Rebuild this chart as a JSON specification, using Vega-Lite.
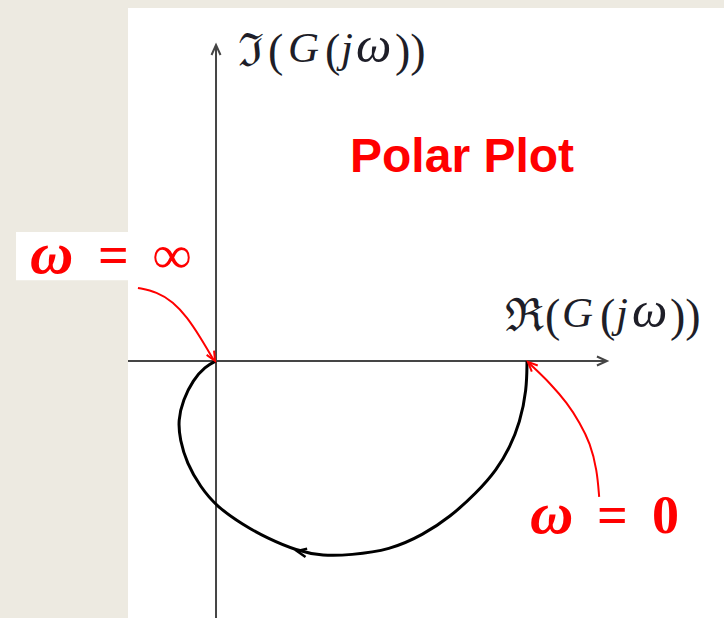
{
  "$schema": "https://vega.github.io/schema/vega-lite/v6.json",
  "width": 596,
  "height": 610,
  "autosize": {"type": "none"},
  "padding": {"left": 128, "top": 8, "right": 0, "bottom": 0},
  "background": "#edeae1",
  "config": {"view": {"fill": "white", "stroke": null}},
  "datasets": {
    "axes": [
      {"axis": "real", "re": -0.283, "im": 0},
      {"axis": "real", "re": 1.251, "im": 0},
      {"axis": "imag", "re": 0, "im": -0.827},
      {"axis": "imag", "re": 0, "im": 1.013}
    ],
    "locus": [
      {"k": 1, "re": 1.0, "im": 0.0},
      {"k": 2, "re": 0.999, "im": -0.093},
      {"k": 3, "re": 0.977, "im": -0.199},
      {"k": 4, "re": 0.945, "im": -0.277},
      {"k": 5, "re": 0.903, "im": -0.35},
      {"k": 6, "re": 0.838, "im": -0.424},
      {"k": 7, "re": 0.752, "im": -0.502},
      {"k": 8, "re": 0.666, "im": -0.559},
      {"k": 9, "re": 0.559, "im": -0.608},
      {"k": 10, "re": 0.431, "im": -0.624},
      {"k": 11, "re": 0.344, "im": -0.627},
      {"k": 12, "re": 0.259, "im": -0.61},
      {"k": 13, "re": 0.163, "im": -0.569},
      {"k": 14, "re": 0.087, "im": -0.527},
      {"k": 15, "re": 0.002, "im": -0.468},
      {"k": 16, "re": -0.051, "im": -0.404},
      {"k": 17, "re": -0.094, "im": -0.328},
      {"k": 18, "re": -0.116, "im": -0.254},
      {"k": 19, "re": -0.122, "im": -0.19},
      {"k": 20, "re": -0.106, "im": -0.125},
      {"k": 21, "re": -0.074, "im": -0.061},
      {"k": 22, "re": -0.035, "im": -0.018},
      {"k": 23, "re": 0.0, "im": 0.0}
    ],
    "pointers": [
      {"label": "inf", "k": 1, "re": -0.251, "im": 0.235},
      {"label": "inf", "k": 2, "re": -0.19, "im": 0.222},
      {"label": "inf", "k": 3, "re": -0.138, "im": 0.19},
      {"label": "inf", "k": 4, "re": -0.093, "im": 0.141},
      {"label": "inf", "k": 5, "re": -0.051, "im": 0.077},
      {"label": "inf", "k": 6, "re": -0.008, "im": 0.004},
      {"label": "zero", "k": 1, "re": 1.232, "im": -0.437},
      {"label": "zero", "k": 2, "re": 1.225, "im": -0.35},
      {"label": "zero", "k": 3, "re": 1.203, "im": -0.264},
      {"label": "zero", "k": 4, "re": 1.17, "im": -0.199},
      {"label": "zero", "k": 5, "re": 1.129, "im": -0.135},
      {"label": "zero", "k": 6, "re": 1.074, "im": -0.071},
      {"label": "zero", "k": 7, "re": 1.019, "im": -0.019},
      {"label": "zero", "k": 8, "re": 1.004, "im": -0.004}
    ],
    "mathUpright": [
      {"t": "ℑ", "re": 0.0707, "im": 0.9614},
      {"t": "(", "re": 0.1672, "im": 0.9614},
      {"t": "(", "re": 0.3505, "im": 0.9614},
      {"t": "))", "re": 0.5756, "im": 0.9614},
      {"t": "ℜ", "re": 0.9293, "im": 0.1093},
      {"t": "(", "re": 1.0579, "im": 0.1093},
      {"t": "(", "re": 1.2347, "im": 0.1093},
      {"t": "))", "re": 1.4598, "im": 0.1093}
    ],
    "mathItalic": [
      {"t": "G", "re": 0.2315, "im": 0.9614},
      {"t": "j", "re": 0.4019, "im": 0.9614},
      {"t": "G", "re": 1.1125, "im": 0.1093},
      {"t": "j", "re": 1.2862, "im": 0.1093}
    ],
    "mathOmega": [
      {"t": "ω", "re": 0.4502, "im": 0.9614},
      {"t": "ω", "re": 1.3376, "im": 0.1093}
    ],
    "omegaSym": [
      {"t": "ω", "re": -0.598, "im": 0.283},
      {"t": "ω", "re": 1.0096, "im": -0.553}
    ],
    "omegaVal": [
      {"t": "=", "re": -0.3794, "im": 0.283},
      {"t": "∞", "re": -0.2026, "im": 0.283},
      {"t": "=", "re": 1.2251, "im": -0.553},
      {"t": "0", "re": 1.4019, "im": -0.553}
    ]
  },
  "encoding": {
    "x": {"field": "re", "type": "quantitative", "axis": null,
          "scale": {"domain": [-0.283, 1.6334], "nice": false, "zero": false}},
    "y": {"field": "im", "type": "quantitative", "axis": null,
          "scale": {"domain": [-0.8264, 1.135], "nice": false, "zero": false}}
  },
  "layer": [
    {
      "data": {"values": [{"re": -0.643, "im": 0.415, "re2": -0.283, "im2": 0.26}]},
      "mark": {"type": "rect", "fill": "white", "stroke": null},
      "encoding": {"x2": {"field": "re2"}, "y2": {"field": "im2"}}
    },
    {
      "data": {"name": "axes"},
      "mark": {"type": "line", "stroke": "#454545", "strokeWidth": 2},
      "encoding": {"detail": {"field": "axis"}}
    },
    {
      "data": {"values": [{"re": 1.257, "im": 0}]},
      "mark": {"type": "point", "shape": "M -2 -0.9 L 0 0 L -2 0.9", "size": 100, "filled": false,
               "stroke": "#454545", "strokeWidth": 2, "opacity": 1, "angle": 0},
      "encoding": {}
    },
    {
      "data": {"values": [{"re": 0, "im": 1.016}]},
      "mark": {"type": "point", "shape": "M -2 -0.9 L 0 0 L -2 0.9", "size": 100, "filled": false,
               "stroke": "#454545", "strokeWidth": 2, "opacity": 1, "angle": 270},
      "encoding": {}
    },
    {
      "data": {"name": "locus"},
      "mark": {"type": "line", "stroke": "black", "strokeWidth": 3, "interpolate": "basis"},
      "encoding": {"order": {"field": "k", "type": "quantitative"}}
    },
    {
      "data": {"values": [{"re": 0.2605, "im": -0.611}]},
      "mark": {"type": "point", "shape": "M -2 -0.9 L 0 0 L -2 0.9", "size": 90, "filled": false,
               "stroke": "black", "strokeWidth": 2.5, "opacity": 1, "angle": 191},
      "encoding": {}
    },
    {
      "data": {"name": "pointers"},
      "mark": {"type": "line", "stroke": "#ff0000", "strokeWidth": 2, "interpolate": "basis"},
      "encoding": {"detail": {"field": "label"}, "order": {"field": "k", "type": "quantitative"}}
    },
    {
      "data": {"values": [{"re": -0.003, "im": 0.0}]},
      "mark": {"type": "point", "shape": "M -2 -0.9 L 0 0 L -2 0.9", "size": 90, "filled": false,
               "stroke": "#ff0000", "strokeWidth": 2, "opacity": 1, "angle": 60},
      "encoding": {}
    },
    {
      "data": {"values": [{"re": 1.003, "im": -0.003}]},
      "mark": {"type": "point", "shape": "M -2 -0.9 L 0 0 L -2 0.9", "size": 90, "filled": false,
               "stroke": "#ff0000", "strokeWidth": 2, "opacity": 1, "angle": 224},
      "encoding": {}
    },
    {
      "data": {"name": "mathUpright"},
      "mark": {"type": "text", "font": "Liberation Serif", "fontSize": 46, "color": "#1e1e28",
               "align": "left", "baseline": "alphabetic", "dy": 4},
      "encoding": {"text": {"field": "t"}}
    },
    {
      "data": {"name": "mathItalic"},
      "mark": {"type": "text", "font": "Liberation Serif", "fontSize": 43, "fontStyle": "italic",
               "color": "#1e1e28", "align": "left", "baseline": "alphabetic"},
      "encoding": {"text": {"field": "t"}}
    },
    {
      "data": {"name": "mathOmega"},
      "mark": {"type": "text", "font": "Liberation Serif", "fontSize": 50, "fontStyle": "italic",
               "color": "#1e1e28", "align": "left", "baseline": "alphabetic"},
      "encoding": {"text": {"field": "t"}}
    },
    {
      "data": {"name": "omegaSym"},
      "mark": {"type": "text", "font": "Liberation Serif", "fontSize": 60, "fontStyle": "italic",
               "fontWeight": "bold", "color": "#ff0000", "align": "left", "baseline": "alphabetic"},
      "encoding": {"text": {"field": "t"}}
    },
    {
      "data": {"name": "omegaVal"},
      "mark": {"type": "text", "font": "Liberation Serif", "fontSize": 54,
               "fontWeight": "bold", "color": "#ff0000", "align": "left", "baseline": "alphabetic"},
      "encoding": {"text": {"field": "t"}}
    },
    {
      "data": {"values": [{"t": "Polar Plot", "re": 0.4309, "im": 0.6077}]},
      "mark": {"type": "text", "font": "Liberation Sans", "fontSize": 48, "fontWeight": "bold",
               "color": "#ff0000", "align": "left", "baseline": "alphabetic"},
      "encoding": {"text": {"field": "t"}}
    }
  ]
}
